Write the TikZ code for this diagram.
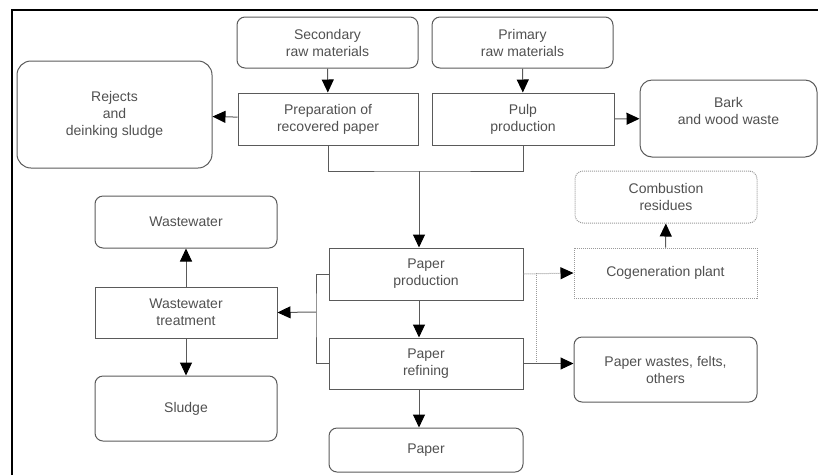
\documentclass[tikz,border=0pt]{standalone}
\usepackage{fontspec}
\setmainfont{Liberation Sans}
\usepackage{tikz}
\usetikzlibrary{arrows.meta}
\definecolor{linegray}{HTML}{5A5A5A}
\definecolor{textgray}{HTML}{505050}
\definecolor{dotgray}{HTML}{9A9A9A}

\begin{document}
\begin{tikzpicture}[x=1pt, y=-1pt, >={Triangle[length=13pt,width=12pt,color=black]},
  box/.style={draw=linegray, line width=1pt, text=textgray, align=center,
    font=\fontsize{14}{17}\selectfont, inner sep=0pt},
  rbox/.style={box, rounded corners=8pt},
  dbox/.style={box, draw=dotgray, densely dotted},
  flow/.style={draw=linegray, line width=1pt}]

\useasboundingbox (0,0) rectangle (818,475);
\draw[line width=2pt] (12,475) -- (12,10) -- (818,10);

% inputs
\draw(327.5,42.5) node[rbox, minimum width=181pt, minimum height=51pt] (sec) {Secondary\\raw materials};
\draw(522.5,42.5) node[rbox, minimum width=181pt, minimum height=51pt] (prim) {Primary\\raw materials};
\draw(328,119) node[box, minimum width=180pt, minimum height=52pt] (prep) {Preparation of\\recovered paper};
\draw(523,119) node[box, minimum width=182pt, minimum height=52pt] (pulp) {Pulp\\production};
\draw(114.5,114.5) node[rbox, rounded corners=14pt, minimum width=195pt, minimum height=107pt] (rej) {Rejects\\and\\deinking sludge};
\draw(728.5,118.5) node[rbox, rounded corners=12pt, minimum width=177pt, minimum height=77pt, text depth=16pt] (bark) {Bark\\and wood waste};

% paper line
\draw(426,274) node[box, minimum width=194pt, minimum height=52pt] (pprod) {Paper\\production};
\draw(426,363.5) node[box, minimum width=194pt, minimum height=51pt] (pref) {Paper\\refining};
\draw(426,450) node[rbox, minimum width=194pt, minimum height=44pt] (paper) {Paper};

% water side
\draw(186,222) node[rbox, minimum width=182pt, minimum height=52pt] (ww) {Wastewater};
\draw(186,312.5) node[box, minimum width=182pt, minimum height=51pt] (wwt) {Wastewater\\treatment};
\draw(186,408.5) node[rbox, minimum width=182pt, minimum height=65pt] (sludge) {Sludge};

% energy and residues
\draw(666,197) node[dbox, rounded corners=8pt, minimum width=182pt, minimum height=52pt] (comb) {Combustion\\residues};
\draw(665.5,273) node[dbox, minimum width=183pt, minimum height=50pt] (cogen) {Cogeneration plant};
\draw(665.5,369.5) node[rbox, minimum width=183pt, minimum height=65pt] (pwaste) {Paper wastes, felts,\\others};

\coordinate (join) at (419,171);
\coordinate (split) at (316,312);

\draw[flow, ->] (sec) -- (prep);
\draw[flow, ->] (prim) -- (pulp);
\draw[flow, ->] (prep) -- (rej);
\draw[flow, ->] (pulp) -- (bark);
\draw[flow] (prep.south) |- (join) -| (pulp.south);
\draw[flow, ->] (join) -- (join |- pprod.north);
\draw[flow, ->] ([xshift=-7pt]pprod.south) -- ([xshift=-7pt]pref.north);
\draw[flow, ->] ([xshift=-7pt]pref.south) -- ([xshift=-7pt]paper.north);
\draw[flow] (pprod.west) -| (split) |- (pref.west);
\draw[flow, ->] (split) -- (wwt.east);
\draw[flow, ->] (wwt) -- (ww);
\draw[flow, ->] (wwt) -- (sludge);
\draw[flow, ->] (pref.east) -- (pref.east -| pwaste.west);
\draw[draw=dotgray, line width=1pt, densely dotted, ->] (pprod.east) -- (cogen.west);
\draw[draw=dotgray, line width=1pt, densely dotted] (536,273) -- (536,363);
\draw[flow, ->] (cogen) -- (comb);

\end{tikzpicture}
\end{document}
